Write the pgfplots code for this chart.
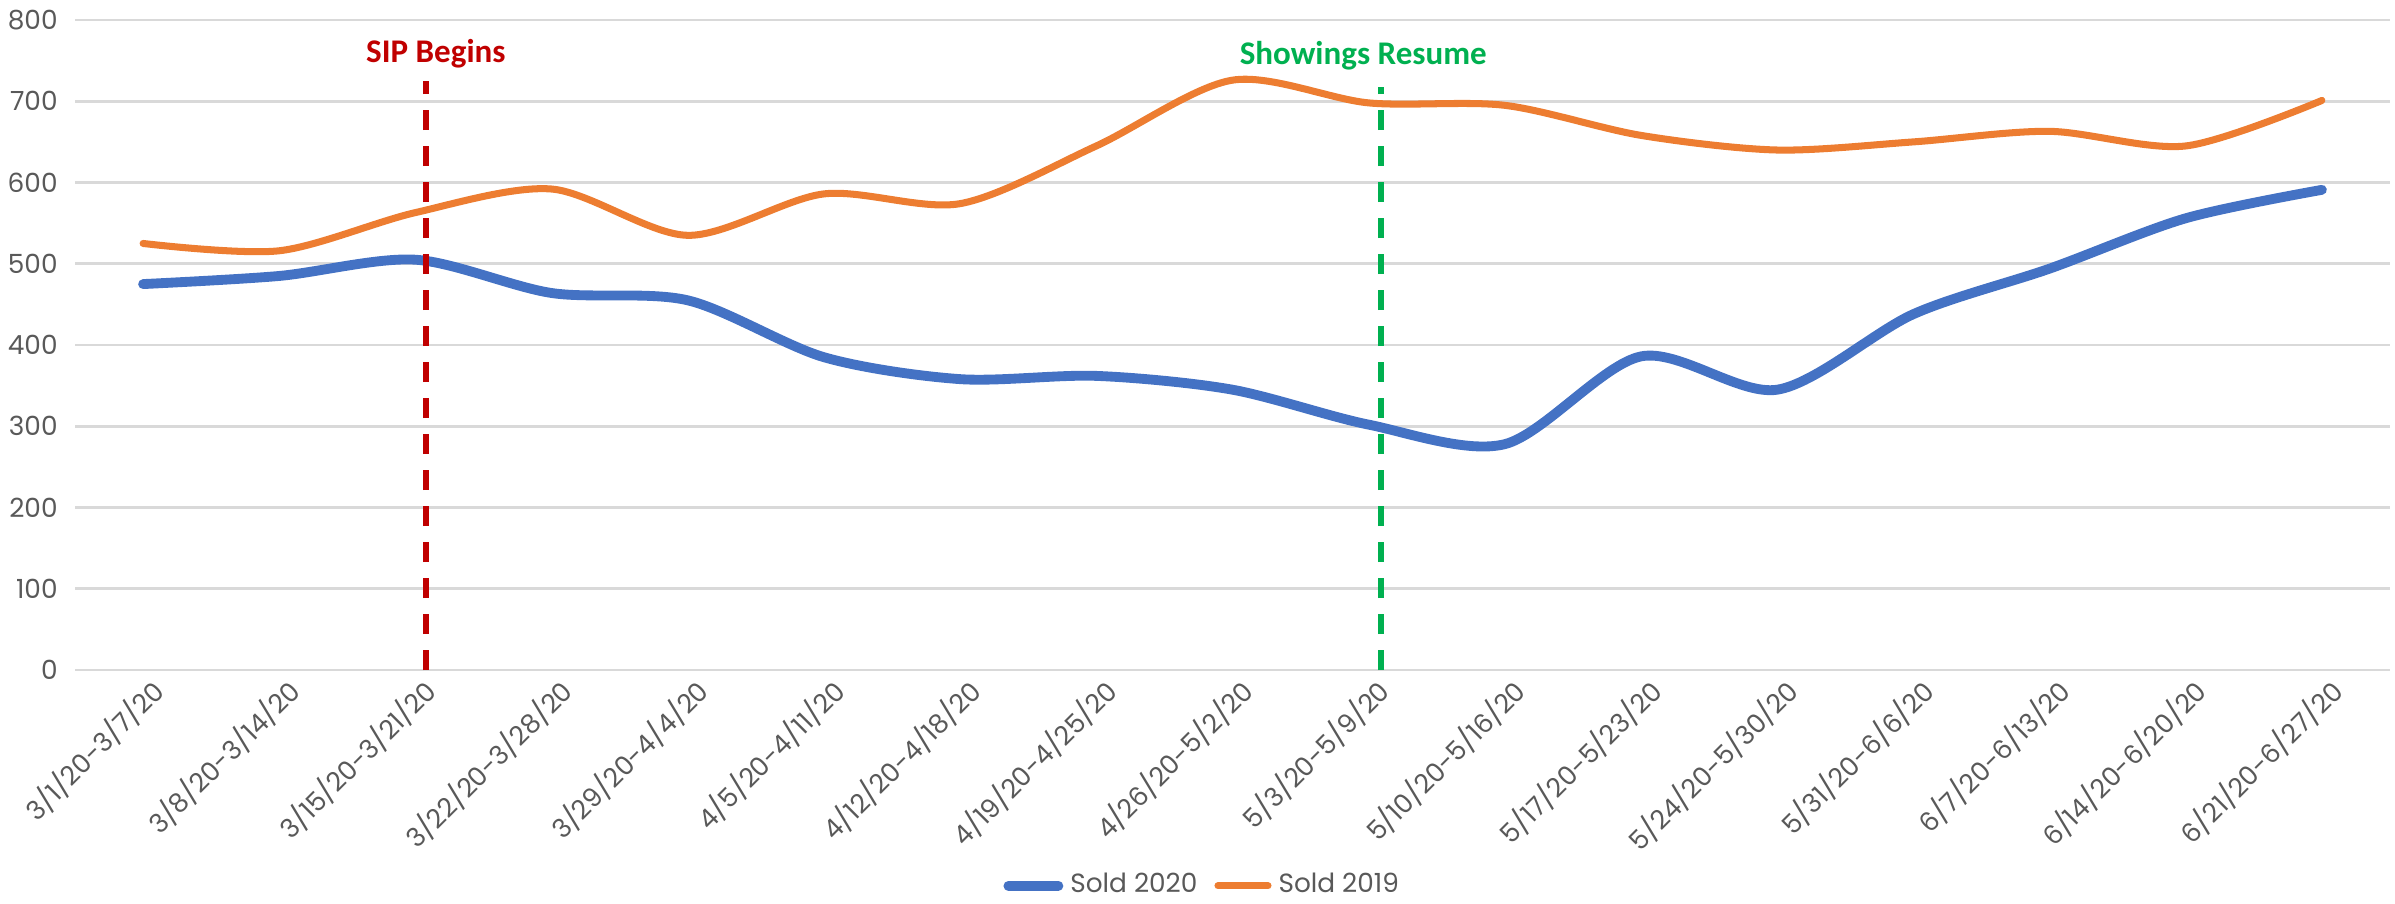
\documentclass[border=0pt]{standalone}
\usepackage{fontspec}
\setmainfont{Poppins}
\newfontfamily\annot{Carlito}
\usepackage{pgfplots}
\pgfplotsset{compat=1.18}
\usepackage{xcolor}
\definecolor{blue20}{HTML}{4472C4}
\definecolor{orange19}{HTML}{ED7D31}
\definecolor{sipred}{HTML}{C00000}
\definecolor{showgreen}{HTML}{00B050}
\definecolor{txtgray}{HTML}{595959}
\definecolor{gridgray}{HTML}{D9D9D9}

\begin{document}
\begin{tikzpicture}
\useasboundingbox (-0.75,-2.33) rectangle (23.2,6.7);
\begin{axis}[
    at={(0,0)}, anchor=south west,
    scale only axis,
    width=23.15cm, height=6.5cm,
    xmin=-0.5, xmax=16.5,
    ymin=0, ymax=800,
    ytick={0,100,...,800},
    xtick={0,...,16},
    xticklabels={3/1/20-3/7/20,3/8/20-3/14/20,3/15/20-3/21/20,3/22/20-3/28/20,3/29/20-4/4/20,4/5/20-4/11/20,4/12/20-4/18/20,4/19/20-4/25/20,4/26/20-5/2/20,5/3/20-5/9/20,5/10/20-5/16/20,5/17/20-5/23/20,5/24/20-5/30/20,5/31/20-6/6/20,6/7/20-6/13/20,6/14/20-6/20/20,6/21/20-6/27/20},
    major tick length=0pt,
    axis line style={draw=none},
    ymajorgrids=true,
    grid style={gridgray, line width=0.8pt},
    tick label style={font=\fontsize{7.5}{9}\selectfont, text=txtgray},
    /pgf/number format/assume math mode=true,
    yticklabel style={anchor=east, xshift=-0.05cm},
    xticklabel style={rotate=45, anchor=east, xshift=0.12cm, yshift=-0.225cm},
    legend columns=2,
    legend style={draw=none, at={(0.488,-0.332)}, anchor=center,
        font=\fontsize{7.5}{9}\selectfont, text=txtgray,
        /tikz/every even column/.append style={column sep=0.1cm}},
    legend image code/.code={\draw[#1, line cap=round] (0cm,0cm) -- (0.5cm,0cm);},
]
\addplot[blue20, line width=2.8pt, smooth, line cap=round] coordinates {
    (0,475) (1,485) (2,505) (3,464) (4,455) (5,385) (6,358) (7,362) (8,345)
    (9,302) (10,278) (11,386) (12,345) (13,438) (14,494) (15,556) (16,591)
};
\addlegendentry{Sold 2020}
\addplot[orange19, line width=2pt, smooth, line cap=round] coordinates {
    (0,525) (1,516) (2,563) (3,592) (4,535) (5,586) (6,574) (7,645) (8,726)
    (9,698) (10,695) (11,658) (12,640) (13,650) (14,663) (15,645) (16,701)
};
\addlegendentry{Sold 2019}
\addplot[forget plot, sipred, line width=1.7pt, dash pattern=on 0.2cm off 0.16cm] coordinates {(2.08,0) (2.08,725)};
\addplot[forget plot, showgreen, line width=1.7pt, dash pattern=on 0.2cm off 0.16cm] coordinates {(9.09,0) (9.09,717)};
\node[text=sipred, font=\annot\bfseries\fontsize{9.4}{10}\selectfont] at (axis cs:2.15,759) {SIP Begins};
\node[text=showgreen, font=\annot\bfseries\fontsize{9.4}{10}\selectfont] at (axis cs:8.96,756) {Showings Resume};
\end{axis}
\end{tikzpicture}
\end{document}
